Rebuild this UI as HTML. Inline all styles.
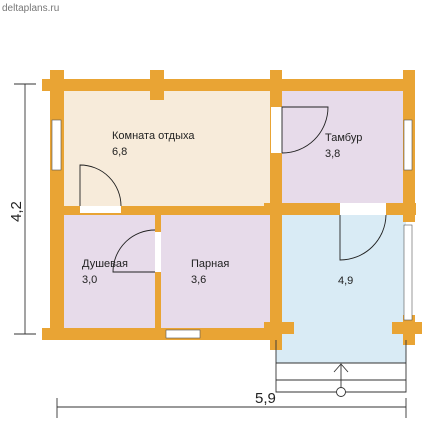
<!DOCTYPE html>
<html><head><meta charset="utf-8"><style>
body{margin:0;background:#fff;}
svg{display:block;font-family:"Liberation Sans","Noto Sans CJK SC",sans-serif;}
</style></head><body>
<svg width="427" height="427" viewBox="0 0 427 427">
<text x="2" y="11" font-size="10" fill="#777">deltaplans.ru</text>
<!-- rooms -->
<rect x="60" y="88" width="214" height="122" fill="#f7ebda"/>
<rect x="278" y="88" width="128" height="120" fill="#e7dbea"/>
<rect x="60" y="210" width="98" height="122" fill="#e7dbea"/>
<rect x="158" y="210" width="116" height="122" fill="#e7dbea"/>
<rect x="276" y="208" width="130" height="155" fill="#d9ebf5"/>
<g fill="#e9a434">
<rect x="42" y="79" width="373" height="12"/>
<rect x="50" y="70" width="14" height="270"/>
<rect x="403" y="70" width="12" height="140"/>
<rect x="270" y="70" width="12" height="280"/>
<rect x="42" y="328" width="240" height="12"/>
<rect x="50" y="206" width="360" height="9"/>
<rect x="264" y="203" width="152" height="12"/>
<rect x="155" y="206" width="6" height="130"/>
<rect x="150" y="70" width="14" height="30"/>
<rect x="403" y="210" width="12" height="12"/>
<rect x="392" y="322" width="30" height="12"/>
<rect x="403" y="315" width="12" height="30"/>
<rect x="264" y="322" width="30" height="12"/>
</g>
<!-- windows/doors gaps -->
<g fill="#fff" stroke="#555" stroke-width="0.6">
<rect x="52" y="120" width="9" height="50"/>
<rect x="404" y="120" width="8" height="50"/>
<rect x="404" y="225" width="8" height="95"/>
<rect x="166" y="330" width="34" height="8"/>
</g>
<g fill="#fff">
<rect x="80" y="206" width="41" height="7"/>
<rect x="271" y="107" width="11" height="46"/>
<rect x="155" y="232" width="6" height="40"/>
<rect x="340" y="203" width="46" height="12"/>
</g>
<g fill="none" stroke="#222" stroke-width="0.9">
<path d="M80 206 V165 A41 41 0 0 1 121 206"/>
<path d="M282 153 V107 H328 A46 46 0 0 1 282 153"/>
<path d="M155 272 H113 A42 42 0 0 1 155 230"/>
<path d="M340 215 V260 A46 46 0 0 0 386 215"/>
</g>
<!-- porch -->
<g fill="none" stroke="#333" stroke-width="0.9">
<path d="M276 340 V392 H406 V340"/>
<line x1="276" y1="363" x2="406" y2="363"/>
<line x1="276" y1="380" x2="406" y2="380"/>
<line x1="341" y1="388" x2="341" y2="364"/>
<path d="M334 372 L341 364 L348 372"/>
<circle cx="341" cy="392" r="4.5" fill="#fff"/>
</g>
<!-- labels -->
<g font-size="11" fill="#222">
<text x="112" y="139">Комната отдыха</text>
<text x="112" y="155">6,8</text>
<text x="325" y="141">Тамбур</text>
<text x="325" y="157">3,8</text>
<text x="82" y="267">Душевая</text>
<text x="82" y="283">3,0</text>
<text x="191" y="267">Парная</text>
<text x="191" y="283">3,6</text>
<text x="338" y="284">4,9</text>
</g>
<!-- dimensions -->
<g stroke="#333" stroke-width="0.9" fill="none">
<line x1="25" y1="84" x2="25" y2="334"/>
<line x1="14" y1="84" x2="36" y2="84"/>
<line x1="14" y1="334" x2="36" y2="334"/>
<line x1="57" y1="407" x2="406" y2="407"/>
<line x1="57" y1="398" x2="57" y2="418"/>
<line x1="406" y1="398" x2="406" y2="418"/>
</g>
<text x="255" y="403" font-size="15" fill="#222">5,9</text>
<text transform="translate(21,222) rotate(-90)" font-size="15" fill="#222">4,2</text>
</svg>
</body></html>
